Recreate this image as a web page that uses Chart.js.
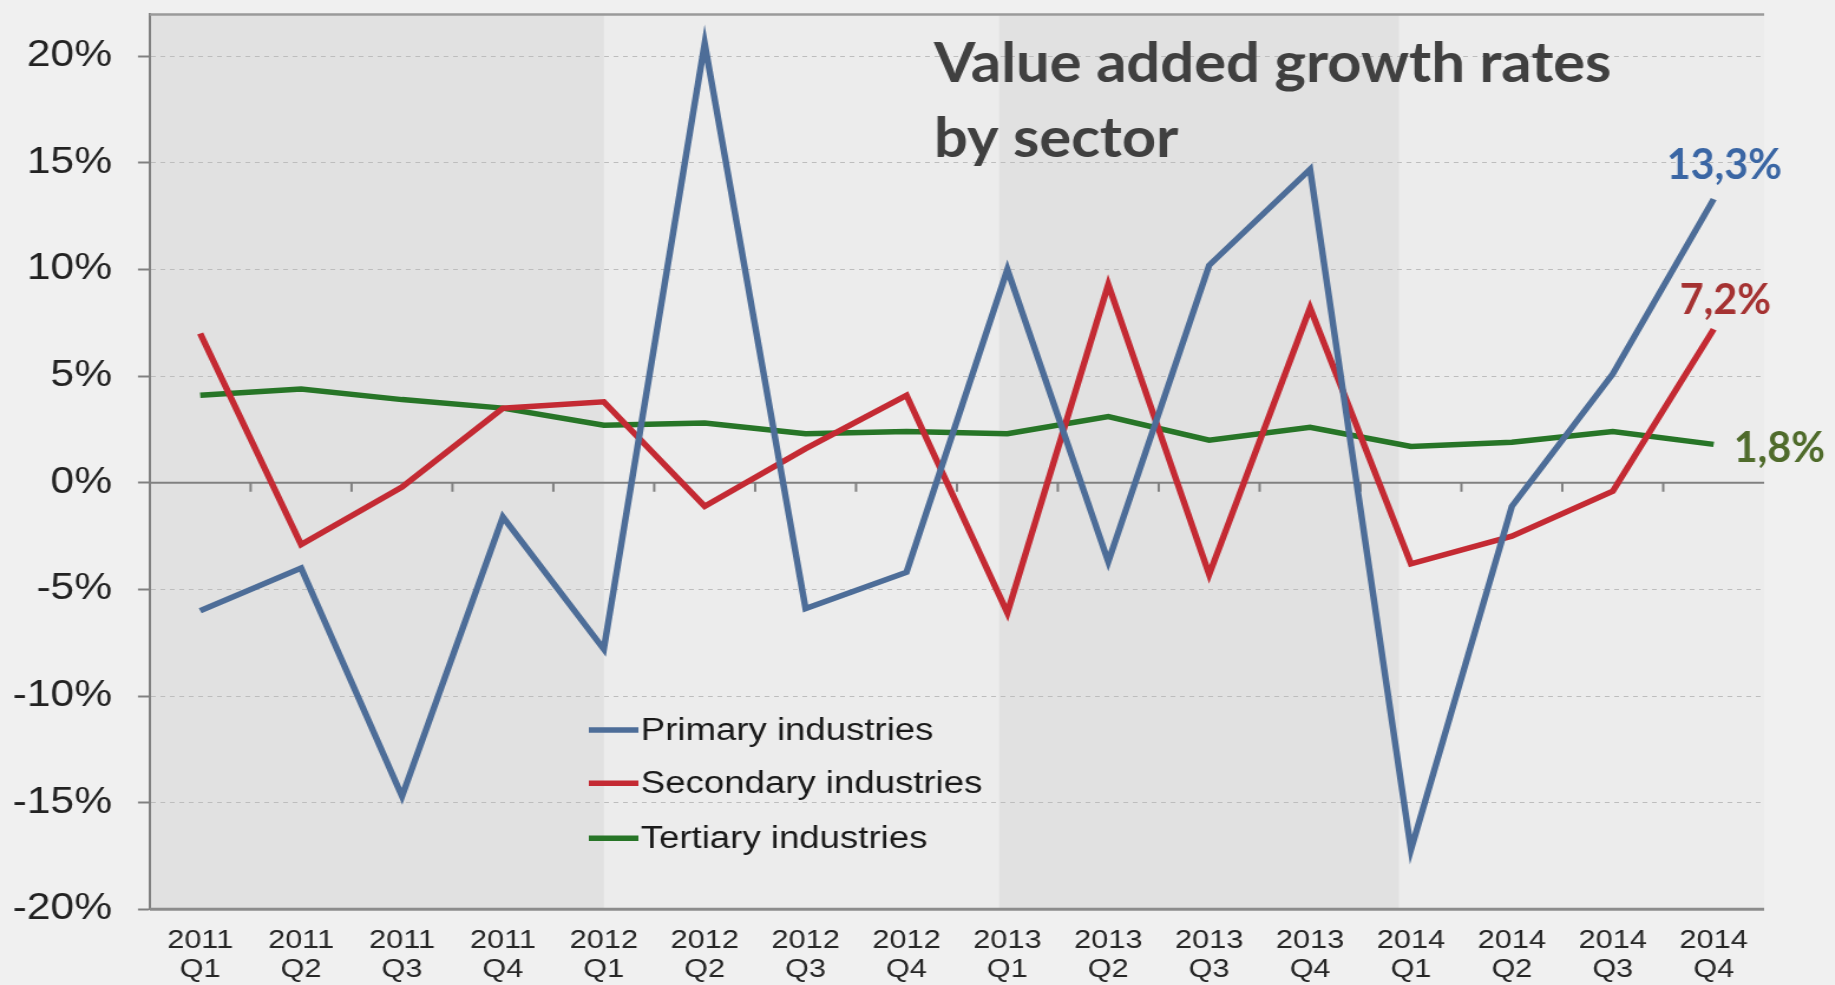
<!DOCTYPE html>
<html>
<head>
<meta charset="utf-8">
<script src="https://cdn.jsdelivr.net/npm/chart.js@4.4.1/dist/chart.umd.min.js"></script>
<style>
  html, body { margin: 0; padding: 0; background: #f0f0f0; overflow: hidden; }
  #wrap { width: 1835px; height: 985px; overflow: hidden; }
  #c { display: block; transform: scaleX(1.18); transform-origin: 0 0; }
</style>
</head>
<body>
<div id="wrap"><canvas id="c" width="1555" height="985"></canvas></div>
<script>
// ---------- data ----------
const categories = [
  ['2011','Q1'],['2011','Q2'],['2011','Q3'],['2011','Q4'],
  ['2012','Q1'],['2012','Q2'],['2012','Q3'],['2012','Q4'],
  ['2013','Q1'],['2013','Q2'],['2013','Q3'],['2013','Q4'],
  ['2014','Q1'],['2014','Q2'],['2014','Q3'],['2014','Q4']
];
const seriesNames = ['Primary industries', 'Secondary industries', 'Tertiary industries'];
const primary   = [-6.0, -4.0, -14.7, -1.6, -7.8, 20.6, -5.9, -4.2, 10.0, -3.7, 10.2, 14.7, -17.2, -1.1, 5.1, 13.3];
const secondary = [7.0, -2.9, -0.2, 3.5, 3.8, -1.1, 1.6, 4.1, -6.1, 9.3, -4.3, 8.2, -3.8, -2.5, -0.4, 7.2];
const tertiary  = [4.1, 4.4, 3.9, 3.5, 2.7, 2.8, 2.3, 2.4, 2.3, 3.1, 2.0, 2.6, 1.7, 1.9, 2.4, 1.8];
const yTickValues = [-20, -15, -10, -5, 0, 5, 10, 15, 20];
const titleLines = ['Value added growth rates', 'by sector'];
// shaded background bands, in category-index units
const shadedBands = [[-0.5, 4.0], [7.92, 11.88]];

// ---------- styles ----------
const COLORS = ['#4d6d98', '#c42a33', '#277527'];
const LABEL_COLORS = ['#3a66a4', '#a53232', '#4f6b2b'];
const Y_MIN = -20, Y_MAX = 22;

function fmtPct(v) { return v.toFixed(1).replace('.', ',') + '%'; }

function drawScaledText(ctx, text, x, y, font, color, sx, align) {
  ctx.save();
  ctx.font = font;
  ctx.fillStyle = color;
  ctx.textBaseline = 'alphabetic';
  ctx.textAlign = 'left';
  const w = ctx.measureText(text).width * sx;
  const left = align === 'center' ? x - w / 2 : x;
  ctx.translate(left, y);
  ctx.scale(sx, 1);
  ctx.fillText(text, 0, 0);
  ctx.restore();
}

const backgroundPlugin = {
  id: 'bg',
  beforeDraw(chart) {
    const { ctx, chartArea: a, scales: { x } } = chart;
    ctx.save();
    ctx.fillStyle = '#f0f0f0';
    ctx.fillRect(0, 0, chart.width, chart.height);
    ctx.fillStyle = '#ececec';
    ctx.fillRect(a.left, a.top, a.right - a.left, a.bottom - a.top);
    ctx.fillStyle = '#e1e1e1';
    shadedBands.forEach(([s, e]) => {
      const x1 = Math.max(a.left, x.getPixelForValue(s));
      const x2 = Math.min(a.right, x.getPixelForValue(e));
      ctx.fillRect(x1, a.top, x2 - x1, a.bottom - a.top);
    });
    ctx.restore();
  },
  beforeDatasetsDraw(chart) {
    const { ctx, chartArea: a, scales: { x, y } } = chart;
    ctx.save();
    // top border
    ctx.strokeStyle = '#9a9a9a';
    ctx.lineWidth = 2.5;
    ctx.beginPath();
    ctx.moveTo(a.left, y.getPixelForValue(Y_MAX) + 1);
    ctx.lineTo(a.right, y.getPixelForValue(Y_MAX) + 1);
    ctx.stroke();
    // bottom border
    ctx.strokeStyle = '#8c8c8c';
    ctx.lineWidth = 3;
    ctx.beginPath();
    ctx.moveTo(a.left, y.getPixelForValue(Y_MIN));
    ctx.lineTo(a.right, y.getPixelForValue(Y_MIN));
    ctx.stroke();
    // zero line with tick marks between categories
    const y0 = y.getPixelForValue(0);
    ctx.strokeStyle = '#808080';
    ctx.lineWidth = 2;
    ctx.beginPath();
    ctx.moveTo(a.left, y0);
    ctx.lineTo(a.right, y0);
    ctx.stroke();
    ctx.beginPath();
    for (let i = 0; i < categories.length - 1; i++) {
      const px = x.getPixelForValue(i + 0.5);
      ctx.moveTo(px, y0);
      ctx.lineTo(px, y0 + 9);
    }
    ctx.stroke();
    ctx.restore();
  },
  afterDraw(chart) {
    const { ctx, scales: { x, y } } = chart;
    // title
    ctx.save();
    ctx.font = 'bold 56px Lato';
    const tsx = 574 / ctx.measureText(titleLines[0]).width;
    ctx.restore();
    drawScaledText(ctx, titleLines[0], 791.5, 81.7, 'bold 56px Lato', '#404040', tsx, 'left');
    drawScaledText(ctx, titleLines[1], 791.5, 156.7, 'bold 56px Lato', '#404040', tsx, 'left');

    // legend
    ctx.save();
    const legY = [730, 783.3, 838.3];
    chart.data.datasets.forEach((ds, i) => {
      ctx.strokeStyle = ds.borderColor;
      ctx.lineWidth = 5.5;
      ctx.beginPath();
      ctx.moveTo(499, legY[i]);
      ctx.lineTo(541, legY[i]);
      ctx.stroke();
      ctx.fillStyle = '#1a1a1a';
      ctx.font = '31px "Liberation Sans", Arial, sans-serif';
      ctx.textBaseline = 'middle';
      ctx.textAlign = 'left';
      ctx.fillText(ds.label, 543, legY[i] + 1);
    });
    ctx.restore();

    // end-point value labels
    const last = categories.length - 1;
    const font = 'bold 42px Lato';
    ctx.save();
    ctx.font = font;
    const lsx = 97.5 / ctx.measureText(fmtPct(primary[last])).width;
    ctx.restore();
    const px = x.getPixelForValue(last);
    const vals = [primary[last], secondary[last], tertiary[last]];
    drawScaledText(ctx, fmtPct(vals[0]), px + 9, y.getPixelForValue(vals[0]) - 20, font, LABEL_COLORS[0], lsx, 'center');
    drawScaledText(ctx, fmtPct(vals[1]), px + 10, y.getPixelForValue(vals[1]) - 15.5, font, LABEL_COLORS[1], lsx, 'center');
    drawScaledText(ctx, fmtPct(vals[2]), px + 17, y.getPixelForValue(vals[2]) + 17.8, font, LABEL_COLORS[2], lsx, 'left');
  }
};

const ds = (label, data, color) => ({
  label, data, borderColor: color, backgroundColor: color,
  borderWidth: 5.5, pointRadius: 0, pointHoverRadius: 0, tension: 0, fill: false,
  borderJoinStyle: 'miter'
});

new Chart(document.getElementById('c'), {
  type: 'line',
  data: {
    labels: categories,
    datasets: [
      ds(seriesNames[0], primary, COLORS[0]),
      ds(seriesNames[1], secondary, COLORS[1]),
      ds(seriesNames[2], tertiary, COLORS[2])
    ]
  },
  options: {
    responsive: false,
    animation: false,
    devicePixelRatio: 1,
    layout: { padding: { top: 13.6, right: 60, bottom: 0, left: 0 } },
    plugins: { legend: { display: false }, tooltip: { enabled: false }, title: { display: false } },
    scales: {
      x: {
        type: 'category',
        offset: true,
        grid: { display: false, drawTicks: false },
        border: { display: false },
        ticks: {
          font: { family: '"Liberation Sans", Arial, sans-serif', size: 26, lineHeight: 1.12 },
          color: '#262626', padding: 17, maxRotation: 0, minRotation: 0, autoSkip: false
        },
        afterFit(s) { s.height = 985 - 909.3; s.paddingLeft = 0; s.paddingRight = 0; }
      },
      y: {
        min: Y_MIN, max: Y_MAX,
        afterBuildTicks(s) { s.ticks = yTickValues.map(v => ({ value: v })); },
        ticks: {
          includeBounds: false,
          callback: v => v + '%',
          font: { family: '"Liberation Sans", Arial, sans-serif', size: 36 },
          color: '#222222', padding: 22
        },
        grid: {
          color: c => (c.tick && (c.tick.value === 0 || c.tick.value === Y_MIN)) ? 'rgba(0,0,0,0)' : '#bdbdbd',
          lineWidth: 1, tickLength: 10, tickColor: '#808080', tickWidth: 2, drawTicks: true
        },
        border: { display: true, color: '#808080', width: 2, dash: [4, 4] },
        afterFit(s) { s.width = 126.9; s.paddingTop = 0; s.paddingBottom = 0; }
      }
    }
  },
  plugins: [backgroundPlugin]
});
</script>
</body>
</html>
